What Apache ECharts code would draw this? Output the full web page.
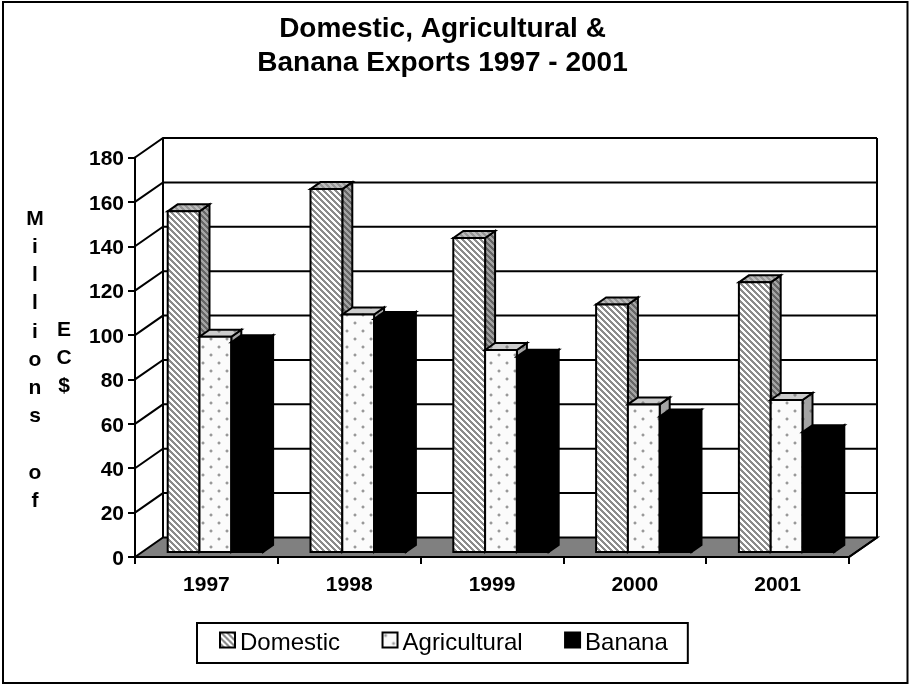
<!DOCTYPE html>
<html>
<head>
<meta charset="utf-8">
<style>html,body{margin:0;padding:0;background:#fff}#c{width:909px;height:685px}</style>
<script src="https://cdn.jsdelivr.net/npm/echarts@6/dist/echarts.min.js"></script>
</head>
<body>
<div id="c"></div>
<script>
var categories = ['1997', '1998', '1999', '2000', '2001'];
var domestic = [153.5, 163.5, 141.5, 111.5, 121.5];
var agricultural = [97, 107, 91, 66.5, 68.5];
var banana = [94.5, 105, 88, 61, 54];
var tickValues = [0, 20, 40, 60, 80, 100, 120, 140, 160, 180];

var DX = 28, DY = 19.5;        // wall depth
var BDX = 10, BDY = 7;         // bar depth
var FDX = 9, FDY = 5;          // bar front plane offset
var BAR_RATIO = 0.2227;
var LW = 2;

function tile(w, h, paint) {
  var c = document.createElement('canvas');
  c.width = w; c.height = h;
  paint(c.getContext('2d'), w, h);
  return { image: c, repeat: 'repeat' };
}
function stripes(bg, fg) {
  return tile(6, 6, function (g) {
    g.fillStyle = bg; g.fillRect(0, 0, 6, 6);
    g.fillStyle = fg;
    for (var y = 0; y < 6; y++) for (var x = 0; x < 6; x++) {
      if ((x - y + 60) % 6 < 3) g.fillRect(x, y, 1, 1);
    }
  });
}
function dots(bg, fg, soft) {
  return tile(16, 16, function (g) {
    g.fillStyle = bg; g.fillRect(0, 0, 16, 16);
    [[2, 2], [10, 10]].forEach(function (d) {
      g.fillStyle = soft;
      g.fillRect(d[0] - 1, d[1], 4, 2);
      g.fillRect(d[0], d[1] - 1, 2, 4);
      g.fillStyle = fg;
      g.fillRect(d[0], d[1], 2, 2);
    });
  });
}

var styles = [
  { front: stripes('#ffffff', '#8c8c8c'), side: stripes('#666666', '#a4a4a4'), top: stripes('#969696', '#bdbdbd') },
  { front: dots('#fbfbfb', '#999999', '#d8d8d8'), side: dots('#a4a4a4', '#777777', '#8c8c8c'), top: dots('#cccccc', '#8a8a8a', '#aaaaaa') },
  { front: '#000', side: '#000', top: '#000' }
];

function poly(points, fill) {
  return {
    type: 'polygon',
    shape: { points: points },
    style: { fill: fill, stroke: '#000', lineWidth: LW, lineJoin: 'miter' }
  };
}

function barRenderer(idx) {
  var st = styles[idx];
  return function (params, api) {
    var cat = api.value(0), val = api.value(1);
    var top = api.coord([cat, val]);
    var base = api.coord([cat, 0]);
    var band = api.size([1, 0])[0];
    var w = band * BAR_RATIO;
    var x0 = top[0] + (idx - 1.5) * w + FDX;
    var x1 = x0 + w;
    var yT = top[1] - FDY, yB = base[1] - FDY;
    return {
      type: 'group',
      children: [
        poly([[x1, yB], [x1 + BDX, yB - BDY], [x1 + BDX, yT - BDY], [x1, yT]], st.side),
        poly([[x0, yT], [x0 + BDX, yT - BDY], [x1 + BDX, yT - BDY], [x1, yT]], st.top),
        poly([[x0, yT], [x1, yT], [x1, yB], [x0, yB]], st.front)
      ]
    };
  };
}

function wallRenderer(params, api) {
  var v = api.value(0);
  var cs = params.coordSys;
  var p = api.coord([0, v]);
  var x0 = cs.x, x1 = cs.x + cs.width, y = p[1];
  var lineStyle = { stroke: '#000', lineWidth: LW, fill: null };
  var kids = [];
  if (v === tickValues[0]) {
    var top = api.coord([0, tickValues[tickValues.length - 1]])[1];
    kids.push({
      type: 'polygon',
      shape: { points: [[x0, y], [x0 + DX, y - DY], [x1 + DX, y - DY], [x1, y]] },
      style: { fill: '#808080', stroke: '#000', lineWidth: LW }
    });
    kids.push({
      type: 'polyline',
      shape: { points: [[x0 + DX, top - DY], [x0 + DX, y - DY]] },
      style: lineStyle
    });
    kids.push({
      type: 'polyline',
      shape: { points: [[x1 + DX, top - DY], [x1 + DX, y - DY], [x1, y]] },
      style: lineStyle
    });
  } else {
    kids.push({
      type: 'polyline',
      shape: { points: [[x0, y], [x0 + DX, y - DY], [x1 + DX, y - DY]] },
      style: lineStyle
    });
  }
  return { type: 'group', children: kids };
}

function seriesFor(name, values, idx) {
  var st = styles[idx];
  return {
    type: 'custom',
    name: name,
    coordinateSystem: 'cartesian2d',
    renderItem: barRenderer(idx),
    encode: { x: 0, y: 1 },
    data: values.map(function (v, i) { return [i, v]; }),
    z: 3,
    clip: false,
    silent: true,
    itemStyle: { color: st.front, borderColor: '#000', borderWidth: LW }
  };
}

var legendStyle = function (idx) {
  return { color: styles[idx].front, borderColor: '#000', borderWidth: LW };
};

var option = {
  animation: false,
  backgroundColor: '#fff',
  title: {
    text: 'Domestic, Agricultural &\nBanana Exports 1997 - 2001',
    left: 437.5, textAlign: 'center', top: 7,
    textStyle: { fontFamily: 'Liberation Sans', fontWeight: 'bold', fontSize: 28, lineHeight: 34.5, color: '#000' }
  },
  grid: { left: 135, right: 60, top: 157.5, bottom: 128, containLabel: false },
  legend: {
    left: 197, top: 623, orient: 'horizontal',
    padding: [8, 20, 8, 22],
    itemGap: 41.5, itemWidth: 15, itemHeight: 15,
    borderColor: '#000', borderWidth: LW, backgroundColor: '#fff',
    selectedMode: false,
    formatter: '{a|{name}}',
    textStyle: {
      fontFamily: 'Liberation Sans', fontSize: 24, color: '#000',
      rich: { a: { fontFamily: 'Liberation Sans', fontSize: 24, color: '#000', lineHeight: 30, verticalAlign: 'bottom' } }
    },
    data: [
      { name: 'Domestic', icon: 'rect', itemStyle: legendStyle(0) },
      { name: 'Agricultural', icon: 'rect', itemStyle: legendStyle(1) },
      { name: 'Banana', icon: 'rect', itemStyle: legendStyle(2) }
    ]
  },
  xAxis: {
    type: 'category',
    data: categories,
    boundaryGap: true,
    axisLine: { show: true, lineStyle: { color: '#000', width: LW } },
    axisTick: { show: true, alignWithLabel: false, length: 7, lineStyle: { color: '#000', width: LW } },
    axisLabel: { margin: 18, color: '#000', fontFamily: 'Liberation Sans', fontWeight: 'bold', fontSize: 21 },
    splitLine: { show: false }
  },
  yAxis: {
    type: 'value',
    min: 0, max: 180, interval: 20,
    axisLine: { show: true, lineStyle: { color: '#000', width: LW } },
    axisTick: { show: true, length: 7, lineStyle: { color: '#000', width: LW } },
    axisLabel: {
      margin: 11, formatter: '{a|{value}}',
      rich: { a: { color: '#000', fontFamily: 'Liberation Sans', fontWeight: 'bold', fontSize: 21, padding: [4, 0, 0, 0] } }
    },
    splitLine: { show: false }
  },
  graphic: [
    {
      type: 'rect', x: 3, y: 2, z: -10, silent: true,
      shape: { width: 904.5, height: 681 },
      style: { fill: '#fff', stroke: '#000', lineWidth: LW }
    },
    {
      type: 'text', silent: true, z: 10, x: 35, y: 205,
      style: { text: 'M\ni\nl\nl\ni\no\nn\ns\n \no\nf', fill: '#000', align: 'center',
               font: 'bold 21px "Liberation Sans"', lineHeight: 28.2 }
    },
    {
      type: 'text', silent: true, z: 10, x: 64, y: 316,
      style: { text: 'E\nC\n$', fill: '#000', align: 'center',
               font: 'bold 21px "Liberation Sans"', lineHeight: 28.2 }
    }
  ],
  series: [
    {
      type: 'custom',
      name: 'wall',
      coordinateSystem: 'cartesian2d',
      renderItem: wallRenderer,
      encode: { y: 0 },
      data: tickValues.map(function (v) { return [v]; }),
      z: 1,
      clip: false,
      silent: true
    },
    seriesFor('Domestic', domestic, 0),
    seriesFor('Agricultural', agricultural, 1),
    seriesFor('Banana', banana, 2)
  ]
};

var chart = echarts.init(document.getElementById('c'), null, { renderer: 'canvas', width: 909, height: 685 });
chart.setOption(option);
</script>
</body>
</html>
